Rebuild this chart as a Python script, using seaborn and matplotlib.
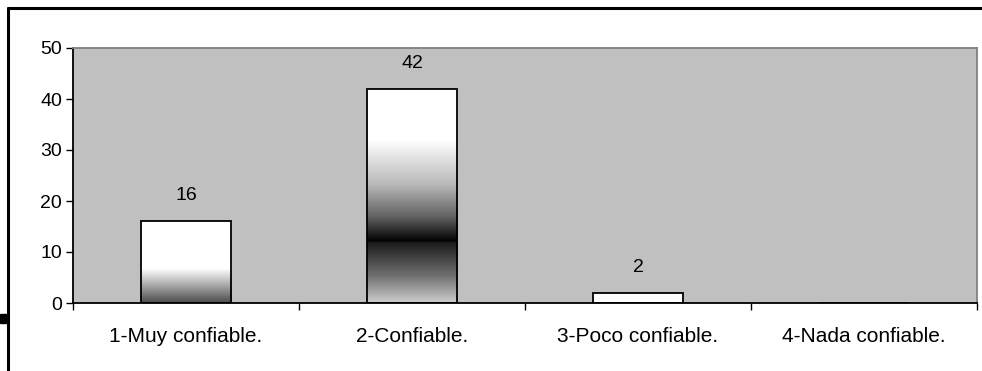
import numpy as np
import pandas as pd
import matplotlib
matplotlib.use("Agg")
import matplotlib.pyplot as plt
from matplotlib.colors import LinearSegmentedColormap
from matplotlib.lines import Line2D
from matplotlib.patches import Rectangle
import seaborn as sns

categories = ["1-Muy confiable.", "2-Confiable.", "3-Poco confiable.", "4-Nada confiable."]
counts = [16, 42, 2, 0]

# vertical shading stops per bar: (fraction of bar height from the base, grey level)
shading = [
    [(0.0, 0.30), (0.12, 0.50), (0.25, 0.72), (0.42, 1.0), (1.0, 1.0)],
    [(0.0, 0.80), (0.12, 0.45), (0.283, 0.10), (0.285, 0.0), (0.40, 0.38), (0.55, 0.72), (0.76, 1.0), (1.0, 1.0)],
    [(0.0, 1.0), (1.0, 1.0)],
    [(0.0, 1.0), (1.0, 1.0)],
]

sns.set_theme(style="white")
plt.rcParams["font.family"] = ["Liberation Sans", "DejaVu Sans"]

fig = plt.figure(figsize=(9.82, 3.71), dpi=100)
ax = fig.add_axes([73 / 982, 1 - 303 / 371, (977 - 73) / 982, (303 - 48) / 371])
ax.set_facecolor("#c0c0c0")

df = pd.DataFrame({"cat": categories, "n": counts})
sns.barplot(data=df, x="cat", y="n", ax=ax, width=0.4, color="white",
            edgecolor="black", linewidth=1.3, zorder=3)

# shade each bar with its vertical gradient
for patch, stops in zip(ax.patches, shading):
    x0, y0 = patch.get_x(), patch.get_y()
    w, h = patch.get_width(), patch.get_height()
    if h <= 0:
        continue
    cmap = LinearSegmentedColormap.from_list(
        "g", [(f, (v, v, v)) for f, v in stops])
    grad = np.linspace(0, 1, 400).reshape(-1, 1)
    im = ax.imshow(grad, cmap=cmap, vmin=0, vmax=1, origin="lower",
                   extent=[x0, x0 + w, y0, y0 + h], aspect="auto", zorder=2.5,
                   interpolation="bilinear")
    im.set_clip_path(patch)
    patch.set_facecolor("none")

for patch, v in zip(ax.patches, counts):
    if v > 0:
        ax.text(patch.get_x() + patch.get_width() / 2, v + 5.0, f"{v}",
                ha="center", va="center", fontsize=14, color="black", zorder=5)

ax.set_xlim(-0.5, 3.5)
ax.set_ylim(0, 50)
ax.set_yticks(range(0, 51, 10))
ax.set_xticks(np.arange(len(categories)))
ax.set_xticklabels(categories)
ax.tick_params(axis="x", length=0, pad=17, labelsize=15, colors="black")
ax.tick_params(axis="y", length=5, width=1, pad=3, labelsize=14, colors="black", left=True, direction="out")
# category separator ticks on the x axis
ax.set_xticks(np.arange(-0.5, 4.0, 1.0), minor=True)
ax.tick_params(axis="x", which="minor", length=5, width=1, bottom=True, direction="out", color="black")
ax.set_xlabel("")
ax.set_ylabel("")

for side in ["top", "right"]:
    ax.spines[side].set_visible(True)
    ax.spines[side].set_color("#808080")
    ax.spines[side].set_linewidth(1.3)
for side in ["left", "bottom"]:
    ax.spines[side].set_color("black")
    ax.spines[side].set_linewidth(1.3)

# chart frame
fig.add_artist(Line2D([8 / 982, 1.0], [1 - 8 / 371, 1 - 8 / 371], color="black", lw=2.2,
                      transform=fig.transFigure))
fig.add_artist(Line2D([8 / 982, 8 / 982], [0.0, 1 - 8 / 371], color="black", lw=2.2,
                      transform=fig.transFigure))
fig.add_artist(Rectangle((0, 1 - 323 / 371), 7 / 982, 9 / 371, color="black",
                         transform=fig.transFigure))

fig.savefig("out.png", dpi=100)
